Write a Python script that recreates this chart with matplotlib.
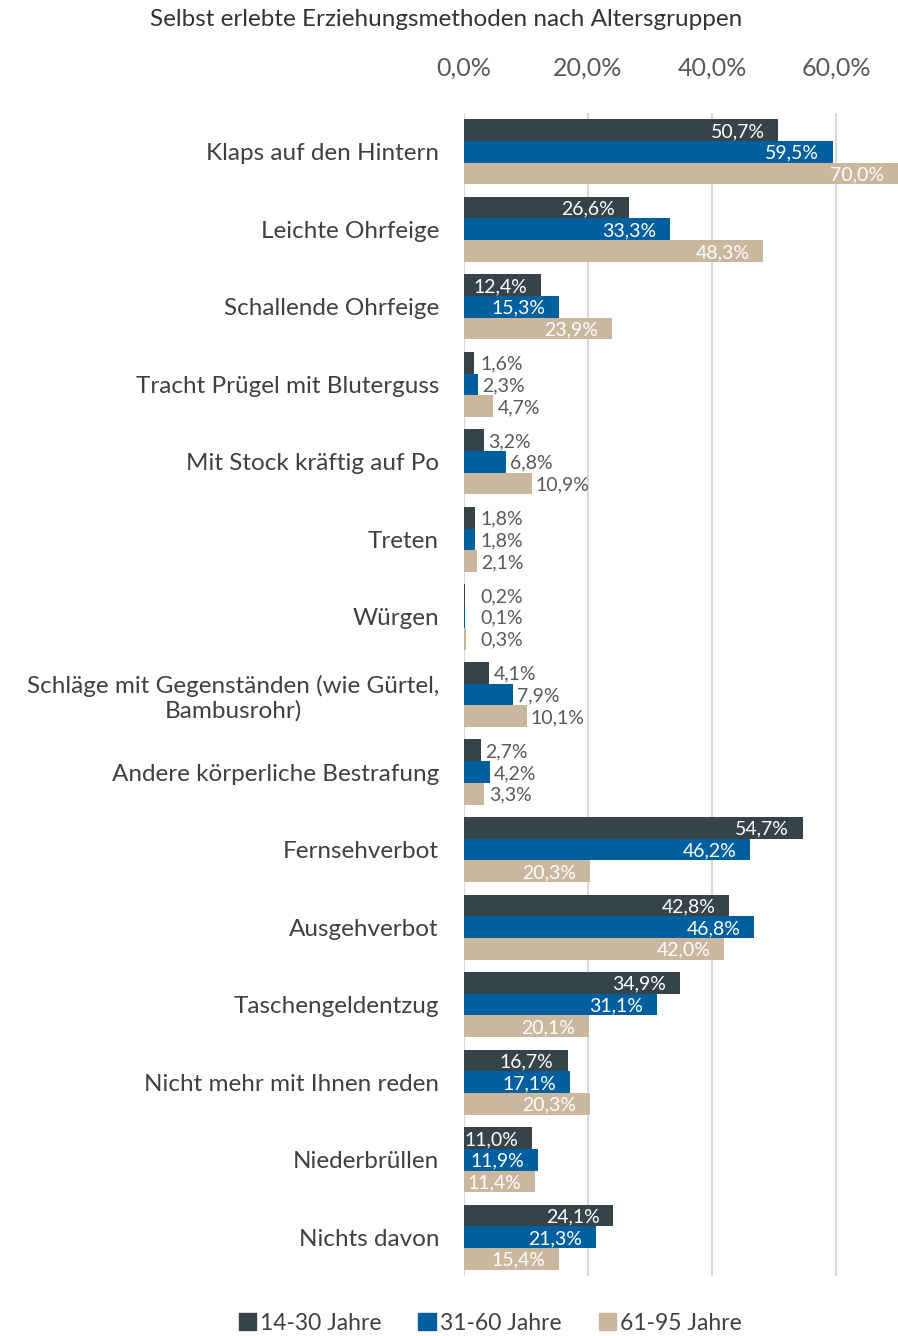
import matplotlib
matplotlib.use("Agg")
import matplotlib.pyplot as plt
import numpy as np

categories = [
    "Klaps auf den Hintern",
    "Leichte Ohrfeige",
    "Schallende Ohrfeige",
    "Tracht Prügel mit Bluterguss",
    "Mit Stock kräftig auf Po",
    "Treten",
    "Würgen",
    "Schläge mit Gegenständen (wie Gürtel,\nBambusrohr)",
    "Andere körperliche Bestrafung",
    "Fernsehverbot",
    "Ausgehverbot",
    "Taschengeldentzug",
    "Nicht mehr mit Ihnen reden",
    "Niederbrüllen",
    "Nichts davon",
]
series_names = ["14-30 Jahre", "31-60 Jahre", "61-95 Jahre"]
v_14_30 = [50.7, 26.6, 12.4, 1.6, 3.2, 1.8, 0.2, 4.1, 2.7, 54.7, 42.8, 34.9, 16.7, 11.0, 24.1]
v_31_60 = [59.5, 33.3, 15.3, 2.3, 6.8, 1.8, 0.1, 7.9, 4.2, 46.2, 46.8, 31.1, 17.1, 11.9, 21.3]
v_61_95 = [70.0, 48.3, 23.9, 4.7, 10.9, 2.1, 0.3, 10.1, 3.3, 20.3, 42.0, 20.1, 20.3, 11.4, 15.4]
xticks = [0, 20, 40, 60]
xtick_labels = ["0,0%", "20,0%", "40,0%", "60,0%"]

colors = ["#37434a", "#005f9e", "#c9b79e"]
font = "Lato"
plt.rcParams["font.family"] = [font, "DejaVu Sans"]

fig = plt.figure(figsize=(8.98, 13.36), dpi=100)
ax = fig.add_axes([464 / 898, 1 - 1276 / 1336, 1 - 464 / 898, (1276 - 113) / 1336])

y = np.arange(len(categories))
h = 0.28
series = [v_14_30, v_31_60, v_61_95]
offsets = [-h, 0, h]
px_per_unit = (898 - 464) / 70.0
for vals, off, col in zip(series, offsets, colors):
    ax.barh(y + off, vals, height=h, color=col, zorder=3, edgecolor="none")
    for yi, v in zip(y, vals):
        txt = f"{v:.1f}%".replace(".", ",")
        if v >= 11:
            ax.annotate(txt, (v, yi + off), xytext=(-10, -1), textcoords="offset points",
                        ha="right", va="center", color="white", fontsize=14, zorder=4)
        else:
            xpos = max(v, 12 / px_per_unit)
            ax.annotate(txt, (xpos, yi + off), xytext=(3, -1), textcoords="offset points",
                        ha="left", va="center", color="#595959", fontsize=14, zorder=4)

ax.set_xlim(0, 70)
ax.set_ylim(len(categories) - 0.5, -0.5)
ax.xaxis.tick_top()
ax.set_xticks(xticks)
ax.set_xticklabels(xtick_labels, fontsize=18, color="#595959")
ax.tick_params(axis="x", length=0, pad=24)
ax.set_yticks(y)
ax.set_yticklabels(categories, fontsize=17.5, color="#404040")
for t in ax.get_yticklabels():
    t.set_multialignment("center")
ax.tick_params(axis="y", length=0, pad=18)
ax.grid(axis="x", color="#d9d9d9", linewidth=1.5, zorder=0)
for s in ax.spines.values():
    s.set_visible(False)

fig.text(446 / 898, 1 - 20 / 1336, "Selbst erlebte Erziehungsmethoden nach Altersgruppen",
         ha="center", va="center", fontsize=17.5, color="#333333")

handles = [plt.Rectangle((0, 0), 1, 1, color=c) for c in colors]
fig.legend(handles, series_names, loc="center", bbox_to_anchor=(0.546, 1 - 1323 / 1336),
           ncol=3, frameon=False, fontsize=16.5, handlelength=0.75, handleheight=0.75,
           handletextpad=0.2, columnspacing=1.6, labelcolor="#404040")

fig.savefig("out.png", dpi=100)
